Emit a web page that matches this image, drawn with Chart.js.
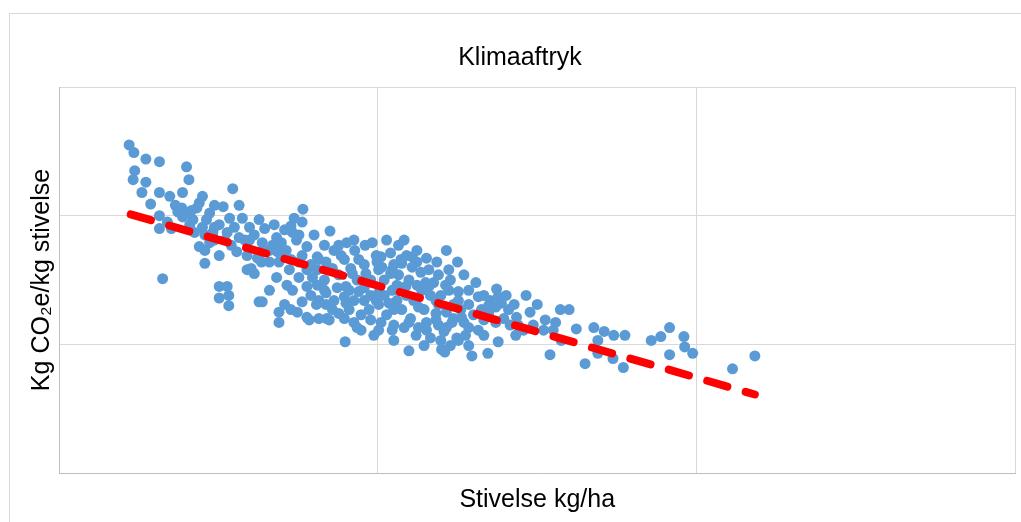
<!DOCTYPE html>
<html>
<head>
<meta charset="utf-8">
<script src="https://cdn.jsdelivr.net/npm/chart.js@4/dist/chart.umd.min.js"></script>
<style>
  html, body { margin: 0; padding: 0; background: #fff; }
</style>
</head>
<body>
<canvas id="myChart" width="1021" height="522"></canvas>
<script>
/* data - stivelse (1000 kg/ha) og klimaaftryk */
const stivelse = [
  0.88,0.94,1.09,1.26,0.95,0.93,1.09,1.60,1.63,1.04,
  1.15,1.26,1.39,1.55,1.80,2.18,1.76,1.73,1.54,1.49,
  1.26,1.55,1.68,1.89,2.06,2.14,2.30,2.39,1.26,1.41,
  1.80,1.95,2.20,2.26,1.76,1.83,2.01,1.83,2.23,2.36,
  2.45,1.30,2.01,2.11,2.01,2.13,2.13,2.51,1.58,1.66,
  2.58,2.73,2.68,2.85,2.95,3.06,2.91,2.93,3.05,2.98,
  3.11,3.40,3.51,3.61,2.41,2.73,2.93,3.11,3.05,3.23,
  2.83,2.91,2.76,2.55,3.35,3.43,3.58,3.18,3.01,3.26,
  3.39,3.60,3.68,3.70,3.51,2.79,2.55,2.89,2.76,3.11,
  3.05,3.24,3.35,3.33,3.36,3.60,3.74,3.59,3.93,3.76,
  3.85,3.98,4.04,4.16,4.29,4.43,4.49,4.54,4.43,4.18,
  4.05,4.01,4.18,4.35,4.55,3.89,4.04,4.18,4.33,4.51,
  4.39,4.86,5.00,4.64,4.73,4.89,5.01,5.23,5.26,5.49,
  5.55,4.83,5.01,5.18,5.38,5.51,4.80,5.26,5.05,4.73,
  5.30,5.48,4.30,4.01,4.16,4.39,4.60,4.70,4.85,5.01,
  3.98,4.14,4.30,4.51,4.73,4.93,5.14,5.39,4.01,4.61,
  4.79,4.84,4.99,3.89,5.71,5.86,6.00,5.91,5.73,6.10,
  6.29,6.40,6.30,6.49,6.71,6.84,6.76,6.76,6.60,6.96,
  7.10,6.95,7.08,6.16,7.43,5.51,5.48,5.74,6.23,7.55,
  7.66,7.84,7.85,7.95,7.66,8.45,8.73,
  3.58,3.66,3.74,3.83,3.64,3.51,3.43,3.79,3.91,4.11,
  4.24,4.36,4.45,4.58,4.66,4.76,4.86,4.95,5.04,5.14,
  5.20,4.08,4.24,4.64,4.76,4.89,4.11,4.26,4.36,3.83,
  3.91,4.20,4.41,4.61,4.76,3.70,3.58,3.45,3.33,3.24,
  3.16,3.26,3.16,2.86,2.76,2.64,2.54,2.33,2.16,2.08,
  1.95,1.83,1.89,2.64,2.83,3.01,3.11,3.24,3.39,3.83,
  4.01,4.49,4.95,5.08,5.33,5.41,5.58,5.64,5.76,5.83,
  5.95,6.08,6.20,1.85,1.93,1.70,2.49,2.36,1.36,
  3.54,3.71,3.84,3.99,3.76,3.91,4.08,4.20,3.95,3.79,
  3.64,3.49,3.35,4.48,4.66,4.91,5.10,5.14,5.33,4.79,
  4.91,5.08,5.14,5.33,5.39,5.61,5.66,4.26,4.49,4.61,
  4.74,4.20,4.33,3.70,3.45,3.33,3.20,3.01,2.83,2.70,
  2.45,2.51,2.74,2.91,2.54,2.64,3.14,3.26,2.99,2.39,
  2.01,2.11,1.64,1.46,1.95,2.26,4.86,4.20,4.39,4.58
];
const klima = [
  2.55,2.49,2.44,2.42,2.35,2.28,2.26,2.38,2.28,2.18,
  2.09,2.18,2.15,2.18,2.15,2.21,2.10,2.06,2.06,2.03,
  2.00,1.99,1.97,2.02,2.07,1.98,1.98,1.91,1.90,1.90,
  1.91,1.91,1.91,1.83,1.76,1.73,1.69,1.63,1.72,1.58,
  1.55,1.51,1.45,1.45,1.36,1.38,1.30,1.33,2.02,2.04,
  1.90,1.83,1.77,1.73,1.98,2.05,1.92,1.87,1.95,1.81,
  1.76,1.88,1.77,1.79,1.59,1.52,1.42,1.45,1.33,1.31,
  1.31,1.27,1.25,1.33,1.40,1.27,1.37,1.52,1.52,1.66,
  1.58,1.45,1.55,1.34,1.24,1.79,1.79,1.58,1.17,1.21,
  1.69,1.68,1.64,1.42,1.20,1.32,1.13,1.02,1.79,1.66,
  1.55,1.69,1.68,1.71,1.66,1.68,1.73,1.56,1.60,1.58,
  1.60,1.40,1.42,1.45,1.42,1.27,1.17,1.11,1.13,1.13,
  0.95,1.73,1.64,1.45,1.34,1.42,1.34,1.48,1.37,1.43,
  1.32,1.10,1.03,0.91,0.93,1.02,0.96,1.11,1.21,1.19,
  1.27,1.17,1.63,1.58,1.55,1.50,1.48,1.48,1.46,1.41,
  1.34,1.32,1.27,1.29,1.24,1.17,1.13,1.24,1.11,1.11,
  1.03,0.94,1.05,1.50,1.31,1.38,1.31,1.25,1.07,1.19,
  1.27,1.27,1.03,1.12,1.13,1.10,1.03,0.93,0.85,1.07,
  1.07,0.89,0.82,0.92,1.03,1.37,1.29,1.21,1.17,1.06,
  1.13,1.06,0.98,0.93,0.92,0.81,0.91,
  1.66,1.59,1.50,1.44,1.42,1.54,1.59,1.23,1.19,1.23,
  1.34,1.38,1.34,1.27,1.38,1.31,1.25,1.31,1.27,1.31,
  1.23,1.50,1.46,1.58,1.54,1.58,1.81,1.77,1.69,1.62,
  1.50,1.27,1.20,1.17,1.15,1.17,1.20,1.34,1.50,1.58,
  1.62,1.34,1.38,1.46,1.64,1.64,1.72,1.81,1.77,1.81,
  1.81,1.85,1.79,1.73,1.69,1.64,1.58,1.46,1.19,1.34,
  1.31,1.46,1.20,1.17,1.19,1.34,1.20,1.27,1.15,1.11,
  1.15,1.11,1.11,1.97,1.87,1.87,1.67,1.69,1.95,
  1.69,1.73,1.77,1.64,1.41,1.38,1.38,1.15,1.07,1.11,
  1.27,1.44,1.31,1.07,1.05,0.99,1.07,0.99,1.07,1.38,
  1.50,1.54,1.42,1.38,1.30,1.38,1.15,1.54,1.64,1.67,
  1.64,1.62,1.81,1.81,1.73,1.77,1.85,1.85,1.89,1.93,
  1.85,1.97,1.72,1.66,1.64,1.42,1.19,1.20,1.25,1.81,
  1.93,1.87,1.93,2.08,2.08,2.08,1.13,1.03,1.17,0.99
];
// tendenslinje (start og slut)
const trendX = [0.90, 8.73];
const trendY = [2.01, 0.61];

const gridColor = '#d9d9d9';
const font = 'Liberation Sans, Arial, sans-serif';

// grå ramme rundt om diagrammet
const frame = {
  id: 'frame',
  beforeDraw(chart) {
    const c = chart.ctx;
    c.save();
    c.strokeStyle = '#d9d9d9';
    c.lineWidth = 1;
    c.strokeRect(9.5, 13.5, 1200, 700);
    c.restore();
  }
};

const ctx = document.getElementById('myChart');
var config = {
  type: 'scatter',
  data: {
    datasets: [{
      label: 'Tendens',
      data: trendX.map((x, i) => ({ x: x, y: trendY[i] })),
      showLine: true,
      borderColor: '#ff0000',
      borderWidth: 8,
      borderDash: [21, 19],
      borderCapStyle: 'round',
      pointRadius: 0
    }, {
      label: 'Klimaaftryk',
      data: stivelse.map((x, i) => ({ x: x, y: klima[i] })),
      backgroundColor: '#5b9bd5',
      borderWidth: 0,
      pointRadius: 5.5,
      pointHoverRadius: 5.5
    }]
  },
  options: {
    responsive: false,
    animation: false,
    devicePixelRatio: 1,
    layout: { padding: { left: 20, right: 1, top: 0, bottom: 0 } },
    plugins: {
      legend: { display: false },
      tooltip: { enabled: false },
      title: {
        display: true,
        text: 'Klimaaftryk',
        color: '#000',
        font: { family: font, size: 25, weight: 'normal' },
        padding: { top: 43, bottom: 14 }
      }
    },
    scales: {
      x: {
        min: 0,
        max: 12,
        ticks: { display: false, stepSize: 4 },
        grid: { color: gridColor, drawTicks: false },
        border: { color: '#bfbfbf' },
        title: {
          display: true,
          text: 'Stivelse kg/ha',
          color: '#000',
          font: { family: font, size: 25 },
          padding: { top: 0, bottom: 7 }
        },
        afterFit(scale) { scale.height = 49; }
      },
      y: {
        min: 0,
        max: 3,
        ticks: { display: false, stepSize: 1 },
        grid: { color: gridColor, drawTicks: false },
        border: { color: '#bfbfbf' },
        title: {
          display: true,
          text: 'Kg CO₂e/kg stivelse',
          color: '#000',
          font: { family: font, size: 25 },
          padding: { top: 7, bottom: 0 }
        },
        afterFit(scale) { scale.width = 39; }
      }
    }
  },
  plugins: [frame]
};

var myChart = new Chart(ctx, config);
</script>
</body>
</html>
